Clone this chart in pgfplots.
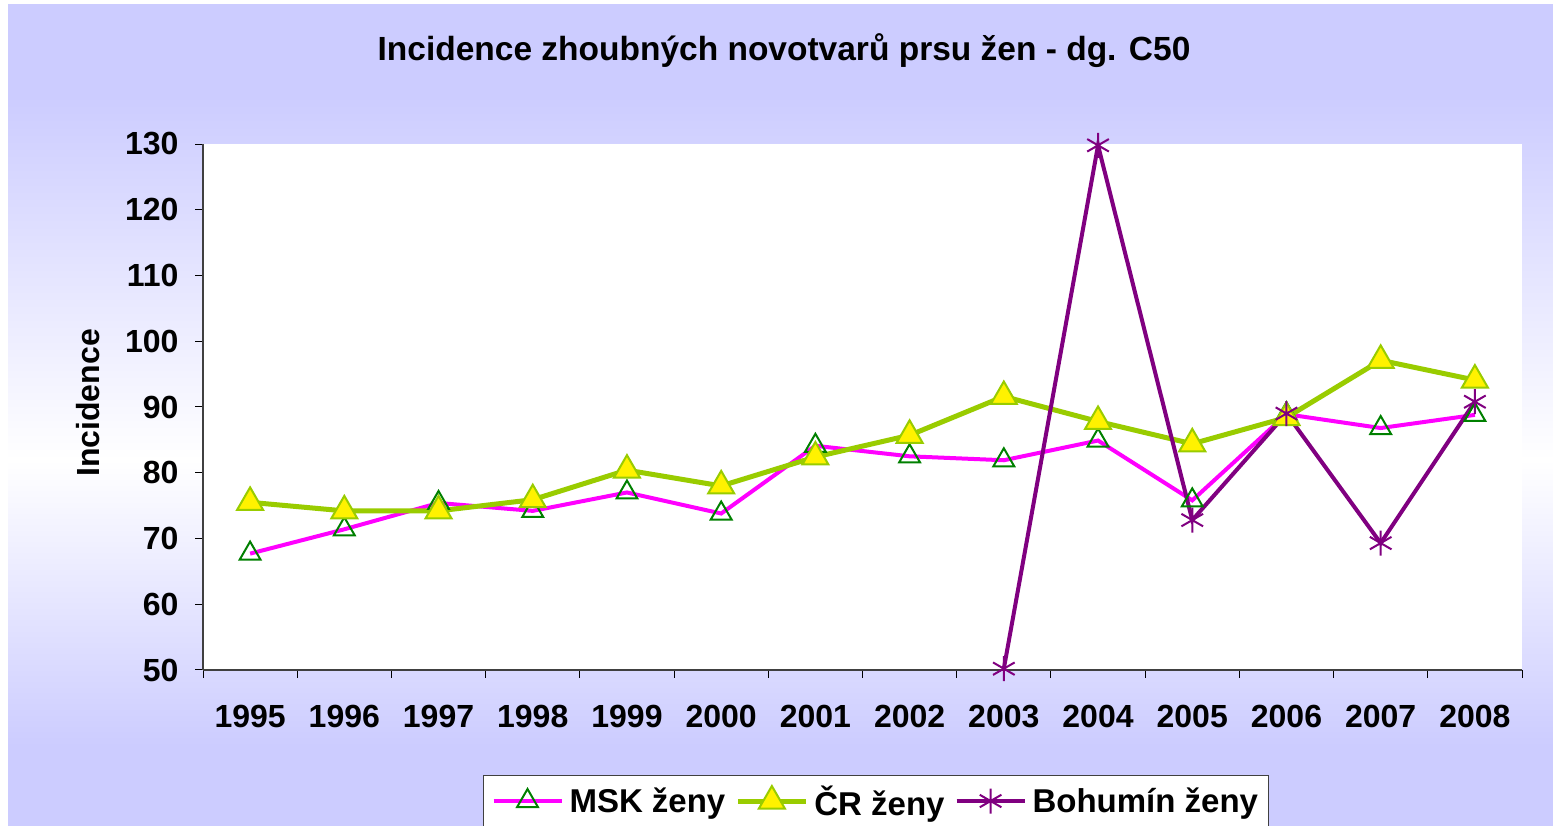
\documentclass[border=0pt]{standalone}
\usepackage{fontspec}
\setmainfont{Liberation Sans}
\usepackage{pgfplots}
\pgfplotsset{compat=1.18}
\definecolor{lav}{RGB}{204,204,255}
\definecolor{msk}{RGB}{255,0,255}
\definecolor{cr}{RGB}{153,204,0}
\definecolor{boh}{RGB}{128,0,128}
\definecolor{dgreen}{RGB}{0,128,0}
\definecolor{lyel}{RGB}{255,255,153}
\begin{document}
\begin{tikzpicture}[x=1pt,y=1pt]
\useasboundingbox (0,0) rectangle (1553,826);
\fill[white] (0,0) rectangle (1553,826);
\fill[lav] (8,0) rectangle (1553,80);
\shade[bottom color=lav, top color=white] (8,80) rectangle (1553,366);
\shade[top color=lav, bottom color=white] (8,366) rectangle (1553,730);
\fill[lav] (8,730) rectangle (1553,822);
\node[font=\bfseries\fontsize{33.5}{40}\selectfont] at (784,775) {Incidence zhoubných novotvarů prsu žen - dg. C50};
\node[rotate=90,font=\bfseries\fontsize{32}{38}\selectfont] at (88,423) {Incidence};
\begin{axis}[
  at={(203pt,156pt)}, anchor=south west, scale only axis,
  width=1319pt, height=526pt,
  xmin=-0.5, xmax=13.5, ymin=50, ymax=130,
  clip=false,
  axis x line*=bottom, axis y line*=left,
  axis line style={draw=black!75, line width=1.5pt},
  axis background/.style={fill=white},
  ytick={50,60,...,130},
  xtick={-0.5,0.5,...,13.5}, xticklabels={},
  extra x ticks={0,1,...,13},
  extra x tick labels={1995,1996,1997,1998,1999,2000,2001,2002,2003,2004,2005,2006,2007,2008},
  extra tick style={major tick length=0pt},
  tick align=outside, major tick length=8pt,
  tick style={draw=black, line width=1pt},
  /pgf/number format/assume math mode=true,
  tick label style={font=\bfseries\fontsize{32}{36}\selectfont},
  xticklabel style={yshift=-32pt},
  yticklabel style={xshift=-13pt},
  legend style={at={(rel axis cs:0.2123,-0.1996)}, anchor=north west,
    draw=black!75, line width=1pt, fill=white, legend columns=3,
    font=\bfseries\fontsize{33}{40}\selectfont, inner sep=8pt,
    /tikz/every even column/.append style={column sep=8pt},
    /tikz/every odd column/.append style={column sep=4pt}},
  legend image code/.code={\draw[mark repeat=2,mark phase=2] plot coordinates {(0pt,0pt) (34pt,0pt) (68pt,0pt)};},
]
\addplot[msk, line width=4pt, mark=triangle, mark size=12pt,
  mark options={draw=dgreen, fill=lyel, line width=2pt, solid}] coordinates {
(0,67.7) (1,71.4) (2,75.4) (3,74.2) (4,77.0) (5,73.8) (6,84.1) (7,82.5) (8,81.9) (9,84.9) (10,75.8) (11,88.9) (12,86.8) (13,88.8)};
\addlegendentry{MSK ženy}
\addplot[cr, line width=5pt, mark=triangle*, mark size=15pt,
  mark options={draw=cr, fill=yellow, line width=2pt, solid}] coordinates {
(0,75.5) (1,74.2) (2,74.2) (3,75.9) (4,80.4) (5,78.0) (6,82.4) (7,85.7) (8,91.6) (9,87.8) (10,84.4) (11,88.4) (12,97.1) (13,94.1)};
\addlegendentry{ČR ženy}
\addplot[boh, line width=4pt, mark=asterisk, mark size=12.5pt,
  mark options={draw=boh, line width=2pt, solid}] coordinates {
(8,50.2) (9,129.8) (10,72.8) (11,89.0) (12,69.3) (13,90.8)};
\addlegendentry{Bohumín ženy}
\end{axis}
\end{tikzpicture}
\end{document}
